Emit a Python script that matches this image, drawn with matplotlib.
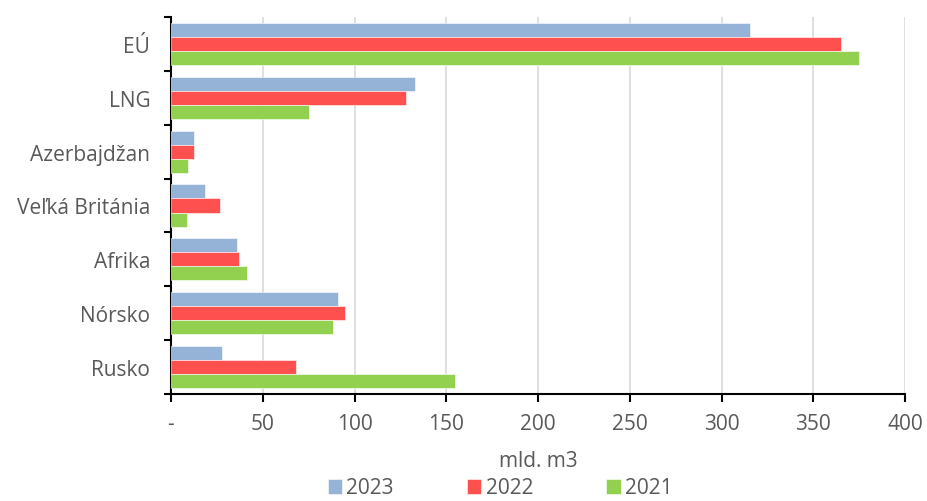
import matplotlib
matplotlib.use("Agg")
import matplotlib.pyplot as plt
import numpy as np
from matplotlib.ticker import FixedLocator, FuncFormatter

categories = ["EÚ", "LNG", "Azerbajdžan", "Veľká Británia", "Afrika", "Nórsko", "Rusko"]
series_names = ["2023", "2022", "2021"]
v2023 = [315.5, 132.7, 12.6, 18.4, 35.9, 91.1, 27.7]
v2022 = [365.0, 128.0, 12.6, 26.5, 37.2, 94.7, 67.9]
v2021 = [375.0, 75.0, 9.1, 8.9, 41.4, 88.3, 154.6]
colors = ["#95B3D7", "#FF5050", "#92D050"]
x_ticks = [0, 50, 100, 150, 200, 250, 300, 350, 400]

plt.rcParams["font.family"] = ["Open Sans", "DejaVu Sans"]
text_col = "#595959"
fs = 15

fig = plt.figure(figsize=(9.27, 5.02), dpi=100)
ax = fig.add_axes([171 / 927, 1 - 395 / 502, 734 / 927, 377 / 502])

n = len(categories)
centers = np.arange(n)[::-1].astype(float)
bar_h = 0.26
offsets = [-bar_h, 0.0, bar_h]
for vals, name, col, off in zip([v2023, v2022, v2021], series_names, colors, offsets):
    ax.barh(centers - off, vals, height=bar_h, color=col, label=name,
            edgecolor="white", linewidth=0.4, zorder=3)

ax.set_xlim(0, 400)
ax.set_ylim(-0.5, n - 0.5)
ax.set_xticks(x_ticks)
ax.xaxis.set_major_formatter(FuncFormatter(lambda v, p: "-" if v == 0 else f"{v:.0f}"))
ax.grid(axis="x", color="#D9D9D9", linewidth=1.2, zorder=0)
ax.set_axisbelow(True)

ax.set_yticks(centers)
ax.set_yticklabels(categories)
ax.yaxis.set_minor_locator(FixedLocator(np.arange(n + 1) - 0.5))
ax.tick_params(axis="y", which="major", length=0, pad=15, labelsize=fs, labelcolor=text_col)
ax.tick_params(axis="y", which="minor", length=5, width=1.5, color="black")
ax.tick_params(axis="x", which="major", length=6, width=1.5, color="black",
               labelsize=fs, labelcolor=text_col, pad=8)

for s in ["top", "right"]:
    ax.spines[s].set_visible(False)
for s in ["left", "bottom"]:
    ax.spines[s].set_color("black")
    ax.spines[s].set_linewidth(1.5)

ax.set_xlabel("mld. m3", fontsize=fs, color=text_col, labelpad=11)

fig.legend(loc="center", bbox_to_anchor=(500 / 927, 1 - 489 / 502), ncol=3, frameon=False,
           fontsize=fs, handlelength=0.7, handleheight=0.7, handletextpad=0.2,
           columnspacing=3.5, labelcolor=text_col)

fig.savefig("out.png", dpi=100)
